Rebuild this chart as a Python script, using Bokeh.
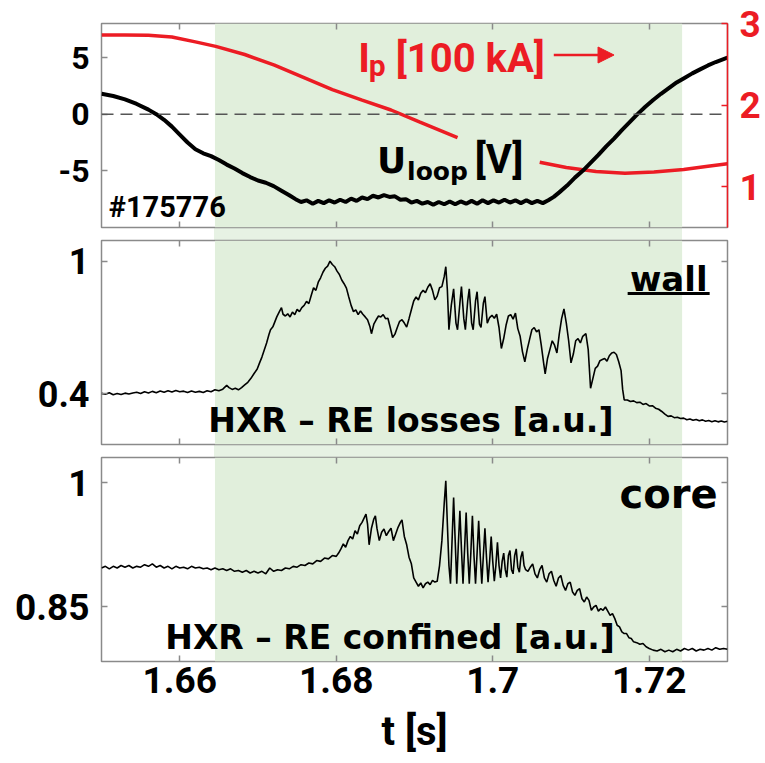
from bokeh.plotting import figure
from bokeh.layouts import column
from bokeh.models import (Range1d, LinearAxis, FixedTicker, Label, Arrow, NormalHead,
                          BoxAnnotation, Span)
from bokeh.embed import file_html
from bokeh.resources import INLINE

# ---------------- data ----------------
t_range = [1.65, 1.73]
shade_t = [1.6645, 1.7242]

x_ticks = [1.66, 1.68, 1.70, 1.72]
x_tick_labels = ["1.66", "1.68", "1.7", "1.72"]
uloop_ticks = [-5, 0, 5]
uloop_tick_labels = ["-5", "0", "5"]
ip_ticks = [1, 2, 3]
ip_tick_labels = ["1", "2", "3"]
wall_ticks = [0.4, 1.0]
wall_tick_labels = ["0.4", "1"]
core_ticks = [0.85, 1.0]
core_tick_labels = ["0.85", "1"]

uloop_t = [1.6500, 1.6515, 1.6530, 1.6545, 1.6560, 1.6570, 1.6580, 1.6590, 1.6600, 1.6610,
           1.6620, 1.6630, 1.6640, 1.6650, 1.6660, 1.6670, 1.6680, 1.6690, 1.6700, 1.6710,
           1.6720, 1.6730, 1.6740, 1.6748, 1.6755, 1.6762, 1.6770, 1.6777, 1.6784, 1.6791,
           1.6798, 1.6805, 1.6812, 1.6819, 1.6826, 1.6833, 1.6840, 1.6847, 1.6854, 1.6861,
           1.6868, 1.6875, 1.6882, 1.6889, 1.6896, 1.6903, 1.6910, 1.6917, 1.6924, 1.6931,
           1.6938, 1.6945, 1.6952, 1.6959, 1.6966, 1.6973, 1.6980, 1.6987, 1.6994, 1.7001,
           1.7008, 1.7015, 1.7022, 1.7029, 1.7036, 1.7043, 1.7050, 1.7057, 1.7064, 1.7071,
           1.7078, 1.7085, 1.7095, 1.7105, 1.7115, 1.7125, 1.7135, 1.7145, 1.7155, 1.7165,
           1.7175, 1.7185, 1.7195, 1.7205, 1.7215, 1.7225, 1.7235, 1.7245, 1.7255, 1.7265,
           1.7275, 1.7285, 1.7300]
uloop_v = [1.8, 1.6, 1.3, 0.9, 0.4, 0.0, -0.5, -1.1, -1.8, -2.5,
           -3.1, -3.45, -3.7, -4.05, -4.45, -4.8, -5.2, -5.55, -5.85, -6.05,
           -6.35, -6.75, -7.15, -7.5, -7.75, -7.6, -7.9, -7.65, -7.85, -7.6,
           -7.8, -7.55, -7.75, -7.45, -7.65, -7.35, -7.5, -7.2, -7.35, -7.15,
           -7.3, -7.25, -7.55, -7.5, -7.8, -7.65, -7.9, -7.75, -8.0, -7.75,
           -7.95, -7.7, -7.95, -7.7, -7.9, -7.65, -7.9, -7.6, -7.85, -7.6,
           -7.8, -7.55, -7.8, -7.6, -7.85, -7.6, -7.85, -7.65, -7.85, -7.6,
           -7.3, -6.9, -6.3, -5.6, -5.0, -4.3, -3.6, -2.85, -2.15, -1.4,
           -0.7, 0.0, 0.65, 1.25, 1.8, 2.3, 2.8, 3.2, 3.6, 3.95,
           4.3, 4.6, 5.0]

# plasma current [100 kA], drawn in two pieces (hidden behind the U_loop label)
ip_t_a = [1.6500, 1.6530, 1.6560, 1.6590, 1.6620, 1.6646, 1.6683, 1.6721, 1.6758, 1.6795,
          1.6833, 1.6870, 1.6907, 1.6955]
ip_a = [2.86, 2.86, 2.855, 2.835, 2.775, 2.72, 2.62, 2.49, 2.34, 2.19,
        2.06, 1.94, 1.79, 1.60]
ip_t_b = [1.7060, 1.7094, 1.7132, 1.7169, 1.7206, 1.7244, 1.7275, 1.7300]
ip_b = [1.30, 1.235, 1.185, 1.165, 1.18, 1.21, 1.25, 1.28]

wall_t = [1.6500, 1.6505, 1.6510, 1.6515, 1.6520, 1.6525, 1.6530, 1.6535, 1.6540, 1.6545,
          1.6550, 1.6555, 1.6560, 1.6565, 1.6570, 1.6575, 1.6580, 1.6585, 1.6590, 1.6595,
          1.6600, 1.6605, 1.6610, 1.6615, 1.6620, 1.6625, 1.6630, 1.6635, 1.6640, 1.6645,
          1.6650, 1.6655, 1.6660, 1.6663, 1.6667, 1.6671, 1.6675, 1.6679, 1.6683, 1.6687,
          1.6691, 1.6695, 1.6699, 1.6702, 1.6705, 1.6708, 1.6711, 1.6714, 1.6716, 1.6719,
          1.6722, 1.6724, 1.6727, 1.6730, 1.6732, 1.6735, 1.6738, 1.6741, 1.6744, 1.6747,
          1.6750, 1.6753, 1.6756, 1.6759, 1.6762, 1.6765, 1.6768, 1.6771, 1.6774, 1.6777,
          1.6780, 1.6783, 1.6786, 1.6789, 1.6792, 1.6795, 1.6798, 1.6801, 1.6804, 1.6807,
          1.6810, 1.6813, 1.6816, 1.6819, 1.6822, 1.6825, 1.6828, 1.6831, 1.6834, 1.6837,
          1.6840, 1.6843, 1.6845, 1.6848, 1.6851, 1.6854, 1.6857, 1.6860, 1.6863, 1.6866,
          1.6869, 1.6872, 1.6875, 1.6878, 1.6881, 1.6884, 1.6887, 1.6890, 1.6893, 1.6896,
          1.6899, 1.6902, 1.6905, 1.6908, 1.6911, 1.6914, 1.6917, 1.6920, 1.6923, 1.6926,
          1.6929, 1.6932, 1.6935, 1.6938, 1.6940, 1.6942, 1.6944, 1.6947, 1.6950, 1.6953,
          1.6955, 1.6958, 1.6960, 1.6963, 1.6965, 1.6968, 1.6970, 1.6973, 1.6975, 1.6978,
          1.6980, 1.6983, 1.6985, 1.6988, 1.6990, 1.6993, 1.6996, 1.6999, 1.7002, 1.7005,
          1.7008, 1.7011, 1.7014, 1.7017, 1.7020, 1.7023, 1.7026, 1.7029, 1.7032, 1.7035,
          1.7038, 1.7041, 1.7044, 1.7047, 1.7050, 1.7053, 1.7056, 1.7059, 1.7062, 1.7065,
          1.7067, 1.7070, 1.7073, 1.7076, 1.7079, 1.7082, 1.7085, 1.7088, 1.7091, 1.7094,
          1.7097, 1.7100, 1.7103, 1.7106, 1.7109, 1.7112, 1.7115, 1.7119, 1.7122, 1.7125,
          1.7128, 1.7131, 1.7134, 1.7137, 1.7140, 1.7143, 1.7146, 1.7149, 1.7152, 1.7155,
          1.7158, 1.7161, 1.7164, 1.7166, 1.7168, 1.7172, 1.7176, 1.7180, 1.7184, 1.7188,
          1.7192, 1.7196, 1.7200, 1.7204, 1.7208, 1.7212, 1.7216, 1.7220, 1.7224, 1.7228,
          1.7232, 1.7236, 1.7240, 1.7244, 1.7248, 1.7252, 1.7256, 1.7260, 1.7264, 1.7268,
          1.7272, 1.7276, 1.7280, 1.7284, 1.7288, 1.7292, 1.7296, 1.7300]
wall_v = [0.402, 0.398, 0.405, 0.396, 0.401, 0.397, 0.403, 0.399, 0.404, 0.407,
          0.401, 0.409, 0.404, 0.411, 0.405, 0.413, 0.407, 0.414, 0.408, 0.415,
          0.409, 0.412, 0.406, 0.413, 0.407, 0.411, 0.406, 0.414, 0.409, 0.418,
          0.414, 0.421, 0.438, 0.428, 0.420, 0.425, 0.418, 0.428, 0.440, 0.452,
          0.470, 0.492, 0.512, 0.540, 0.566, 0.598, 0.630, 0.668, 0.690, 0.703,
          0.730, 0.748, 0.770, 0.790, 0.760, 0.752, 0.762, 0.748, 0.770, 0.758,
          0.782, 0.772, 0.790, 0.800, 0.818, 0.808, 0.845, 0.880, 0.868, 0.905,
          0.925, 0.950, 0.968, 0.978, 1.000, 0.985, 0.975, 0.955, 0.940, 0.915,
          0.898, 0.878, 0.838, 0.800, 0.772, 0.780, 0.758, 0.775, 0.760, 0.748,
          0.735, 0.705, 0.672, 0.715, 0.735, 0.752, 0.748, 0.758, 0.740, 0.742,
          0.700, 0.655, 0.670, 0.700, 0.728, 0.735, 0.720, 0.702, 0.740, 0.780,
          0.820, 0.838, 0.825, 0.855, 0.868, 0.858, 0.882, 0.898, 0.868, 0.825,
          0.842, 0.880, 0.885, 0.930, 0.975, 0.870, 0.690, 0.800, 0.875, 0.720,
          0.690, 0.810, 0.885, 0.740, 0.690, 0.820, 0.875, 0.720, 0.690, 0.820,
          0.862, 0.715, 0.700, 0.810, 0.840, 0.720, 0.745, 0.755, 0.742, 0.760,
          0.700, 0.605, 0.650, 0.710, 0.752, 0.758, 0.738, 0.765, 0.695, 0.660,
          0.590, 0.545, 0.600, 0.645, 0.690, 0.700, 0.680, 0.690, 0.620, 0.540,
          0.490, 0.560, 0.600, 0.640, 0.620, 0.585, 0.670, 0.740, 0.784, 0.720,
          0.640, 0.540, 0.580, 0.640, 0.650, 0.630, 0.660, 0.672, 0.600, 0.425,
          0.470, 0.515, 0.525, 0.550, 0.555, 0.560, 0.548, 0.572, 0.585, 0.588,
          0.578, 0.545, 0.505, 0.420, 0.372, 0.372, 0.365, 0.368, 0.360, 0.362,
          0.352, 0.356, 0.345, 0.346, 0.335, 0.330, 0.320, 0.308, 0.298, 0.300,
          0.292, 0.294, 0.288, 0.290, 0.283, 0.286, 0.280, 0.284, 0.278, 0.282,
          0.276, 0.279, 0.274, 0.278, 0.273, 0.277, 0.272, 0.276]

core_t = [1.6500, 1.6505, 1.6510, 1.6515, 1.6520, 1.6525, 1.6530, 1.6535, 1.6540, 1.6545,
          1.6550, 1.6555, 1.6560, 1.6565, 1.6570, 1.6575, 1.6580, 1.6585, 1.6590, 1.6595,
          1.6600, 1.6605, 1.6610, 1.6615, 1.6620, 1.6625, 1.6630, 1.6635, 1.6640, 1.6645,
          1.6650, 1.6655, 1.6660, 1.6665, 1.6670, 1.6675, 1.6680, 1.6685, 1.6690, 1.6695,
          1.6700, 1.6705, 1.6710, 1.6715, 1.6720, 1.6725, 1.6730, 1.6735, 1.6740, 1.6745,
          1.6750, 1.6755, 1.6760, 1.6765, 1.6770, 1.6775, 1.6780, 1.6785, 1.6790, 1.6795,
          1.6800, 1.6803, 1.6806, 1.6809, 1.6812, 1.6815, 1.6818, 1.6821, 1.6824, 1.6827,
          1.6830, 1.6833, 1.6836, 1.6838, 1.6840, 1.6842, 1.6845, 1.6848, 1.6850, 1.6852,
          1.6855, 1.6858, 1.6861, 1.6864, 1.6867, 1.6870, 1.6873, 1.6876, 1.6879, 1.6882,
          1.6884, 1.6887, 1.6890, 1.6893, 1.6896, 1.6899, 1.6902, 1.6905, 1.6908, 1.6911,
          1.6914, 1.6917, 1.6920, 1.6923, 1.6926, 1.6929, 1.6932, 1.6935, 1.6938, 1.6940,
          1.6942, 1.6944, 1.6946, 1.6948, 1.6950, 1.6952, 1.6954, 1.6956, 1.6958, 1.6960,
          1.6962, 1.6964, 1.6966, 1.6968, 1.6970, 1.6972, 1.6974, 1.6976, 1.6978, 1.6980,
          1.6982, 1.6984, 1.6986, 1.6988, 1.6990, 1.6992, 1.6994, 1.6996, 1.6998, 1.7000,
          1.7002, 1.7004, 1.7006, 1.7008, 1.7010, 1.7012, 1.7014, 1.7016, 1.7018, 1.7020,
          1.7022, 1.7024, 1.7026, 1.7028, 1.7030, 1.7032, 1.7034, 1.7036, 1.7038, 1.7040,
          1.7042, 1.7045, 1.7048, 1.7051, 1.7054, 1.7057, 1.7060, 1.7063, 1.7066, 1.7069,
          1.7072, 1.7075, 1.7078, 1.7081, 1.7084, 1.7087, 1.7090, 1.7093, 1.7096, 1.7099,
          1.7102, 1.7105, 1.7108, 1.7111, 1.7114, 1.7117, 1.7120, 1.7123, 1.7126, 1.7129,
          1.7132, 1.7135, 1.7138, 1.7141, 1.7144, 1.7147, 1.7150, 1.7153, 1.7156, 1.7159,
          1.7162, 1.7165, 1.7168, 1.7171, 1.7174, 1.7177, 1.7180, 1.7184, 1.7188, 1.7192,
          1.7196, 1.7200, 1.7205, 1.7210, 1.7215, 1.7220, 1.7225, 1.7230, 1.7235, 1.7240,
          1.7245, 1.7250, 1.7255, 1.7260, 1.7265, 1.7270, 1.7275, 1.7280, 1.7285, 1.7290,
          1.7295, 1.7300]
core_v = [0.897, 0.899, 0.896, 0.899, 0.897, 0.900, 0.898, 0.900, 0.897, 0.899,
          0.898, 0.901, 0.899, 0.902, 0.898, 0.900, 0.897, 0.899, 0.896, 0.899,
          0.897, 0.898, 0.896, 0.899, 0.897, 0.898, 0.896, 0.897, 0.895, 0.897,
          0.895, 0.896, 0.894, 0.896, 0.893, 0.894, 0.892, 0.894, 0.891, 0.893,
          0.891, 0.893, 0.890, 0.897, 0.893, 0.895, 0.894, 0.897, 0.896, 0.899,
          0.898, 0.901, 0.900, 0.903, 0.902, 0.906, 0.905, 0.909, 0.908, 0.912,
          0.911, 0.915, 0.920, 0.926, 0.922, 0.930, 0.935, 0.932, 0.942, 0.938,
          0.948, 0.952, 0.958, 0.962, 0.950, 0.925, 0.945, 0.956, 0.960, 0.945,
          0.930, 0.940, 0.944, 0.936, 0.941, 0.945, 0.930, 0.938, 0.946, 0.952,
          0.955, 0.935, 0.925, 0.910, 0.902, 0.885, 0.880, 0.875, 0.879, 0.873,
          0.878, 0.880, 0.877, 0.882, 0.880, 0.881, 0.900, 0.930, 0.975, 1.002,
          0.950, 0.900, 0.878, 0.930, 0.982, 0.930, 0.878, 0.925, 0.966, 0.920,
          0.878, 0.920, 0.964, 0.915, 0.878, 0.915, 0.960, 0.912, 0.878, 0.915,
          0.954, 0.912, 0.878, 0.912, 0.945, 0.910, 0.880, 0.905, 0.935, 0.905,
          0.881, 0.900, 0.928, 0.900, 0.885, 0.905, 0.915, 0.895, 0.886, 0.912,
          0.918, 0.895, 0.890, 0.912, 0.920, 0.898, 0.892, 0.910, 0.917, 0.900,
          0.895, 0.893, 0.898, 0.902, 0.890, 0.885, 0.895, 0.900, 0.885, 0.880,
          0.890, 0.893, 0.882, 0.875, 0.885, 0.888, 0.876, 0.870, 0.878, 0.880,
          0.868, 0.864, 0.870, 0.872, 0.860, 0.856, 0.862, 0.858, 0.846, 0.850,
          0.852, 0.845, 0.848, 0.846, 0.850, 0.845, 0.840, 0.842, 0.836, 0.828,
          0.826, 0.820, 0.818, 0.818, 0.813, 0.812, 0.808, 0.807, 0.805, 0.806,
          0.802, 0.800, 0.798, 0.797, 0.799, 0.796, 0.798, 0.796, 0.799, 0.797,
          0.800, 0.798, 0.800, 0.797, 0.799, 0.798, 0.800, 0.798, 0.801, 0.799,
          0.800, 0.799]

# ---------------- style ----------------
RED = "#ec1c24"
GRAY = "#8a8a8a"
GREEN = "#e1efdc"
GREEN_GAP = "#e7f2e4"
NUM_FONT = "Roboto"
TXT_FONT = "DejaVu Sans"

xr = Range1d(t_range[0], t_range[1])


def style_axis(ax, ticks, labels, size=None, color=GRAY, label_color="black"):
    ax.ticker = FixedTicker(ticks=ticks)
    ax.major_tick_in = 6
    ax.major_tick_out = 0
    ax.minor_tick_line_color = None
    ax.major_tick_line_color = color
    ax.major_tick_line_width = 1.5
    ax.axis_line_color = None
    if size is None:
        ax.major_label_text_font_size = "0px"
        ax.major_label_standoff = 0
        ax.major_label_overrides = {k: "" for k in ticks}
    else:
        ax.major_label_overrides = dict(zip(ticks, labels))
        ax.major_label_text_font = NUM_FONT
        ax.major_label_text_font_style = "bold"
        ax.major_label_text_font_size = size
        ax.major_label_text_color = label_color


def make_fig(yr, top, bottom, yticks, ylabels, ysize, show_x=False):
    p = figure(x_range=xr, y_range=yr, frame_width=626, frame_height=204,
               min_border_left=101, min_border_right=38,
               min_border_top=top, min_border_bottom=bottom,
               output_backend="svg", toolbar_location=None)
    p.grid.visible = False
    p.outline_line_color = GRAY
    p.outline_line_width = 1.5
    p.background_fill_color = "white"
    p.border_fill_color = None
    p.add_layout(BoxAnnotation(left=shade_t[0], right=shade_t[1], fill_color=GREEN,
                               fill_alpha=1.0, line_color=None, level="underlay"))
    style_axis(p.yaxis[0], yticks, ylabels, ysize)
    p.yaxis[0].major_label_standoff = 12
    bottom_ax = p.xaxis[0]
    if show_x:
        style_axis(bottom_ax, x_ticks, x_tick_labels, "37px")
        bottom_ax.major_label_standoff = 5
    else:
        style_axis(bottom_ax, x_ticks, x_tick_labels, None)
    top_ax = LinearAxis()
    style_axis(top_ax, x_ticks, x_tick_labels, None)
    p.add_layout(top_ax, "above")
    return p, bottom_ax


def lab(p, x, y, text, size, font=TXT_FONT, color="black", align="left"):
    px = float(size.replace("px", ""))
    p.add_layout(Label(x=x, y=y, text=text, text_font=font, text_font_style="bold",
                       text_font_size=size, text_color=color, text_align=align,
                       text_baseline="alphabetic", y_offset=round(0.36 * px)))


# ---- top panel: U_loop and I_p ----
p1, _ = make_fig(Range1d(-10, 8), 23, 6, uloop_ticks, uloop_tick_labels, "32px")
p1.extra_y_ranges = {"ip": Range1d(0.5, 3)}
r_ax = LinearAxis(y_range_name="ip")
style_axis(r_ax, ip_ticks, ip_tick_labels, "37px", color=RED, label_color=RED)
r_ax.axis_line_color = RED
r_ax.axis_line_width = 1.5
r_ax.major_label_standoff = 12
p1.add_layout(r_ax, "right")
p1.add_layout(Span(location=0, dimension="width", line_color="#555555",
                   line_width=1.5, line_dash="12 7"))
p1.line(ip_t_a, ip_a, y_range_name="ip", line_color=RED, line_width=3.5)
p1.line(ip_t_b, ip_b, y_range_name="ip", line_color=RED, line_width=3.5)
p1.line(uloop_t, uloop_v, line_color="black", line_width=4)
lab(p1, 1.6828, 3.655, "I", "40px", font=NUM_FONT, color=RED)
lab(p1, 1.68415, 3.30, "p", "30px", font=NUM_FONT, color=RED)
lab(p1, 1.68760, 3.655, "[100 kA]", "40px", font=NUM_FONT, color=RED)
p1.add_layout(Arrow(end=NormalHead(size=16, fill_color=RED, line_color=RED),
                    x_start=1.7078, y_start=5.22, x_end=1.7155, y_end=5.22,
                    line_color=RED, line_width=2.5))
lab(p1, 1.68520, -5.22, "U", "36px")
lab(p1, 1.68905, -5.84, "loop", "25px")
lab(p1, 1.69770, -5.22, "[V]", "40px", font=NUM_FONT)
lab(p1, 1.65093, -9.03, "#175776", "29px", font=NUM_FONT)

# ---- middle panel: wall HXR ----
p2, _ = make_fig(Range1d(0.1706, 1.0937), 7, 6, wall_ticks, wall_tick_labels, "36px")
r2 = LinearAxis()
style_axis(r2, wall_ticks, wall_tick_labels, None)
p2.add_layout(r2, "right")
p2.line(wall_t, wall_v, line_color="black", line_width=1.6)
lab(p2, 1.72746, 0.867, "wall", "34px", align="right")
p2.add_layout(BoxAnnotation(left=1.71724, right=1.72772, bottom=0.8471, top=0.8606,
                            fill_color="black", fill_alpha=1.0, line_color=None))
lab(p2, 1.66365, 0.2263, "HXR \u2013 RE losses [a.u.]", "33px")

# ---- bottom panel: core HXR ----
p3, x3 = make_fig(Range1d(0.7843, 1.0302), 7, 102, core_ticks, core_tick_labels, "37px",
                  show_x=True)
r3 = LinearAxis()
style_axis(r3, core_ticks, core_tick_labels, None)
p3.add_layout(r3, "right")
p3.line(core_t, core_v, line_color="black", line_width=1.6)
lab(p3, 1.72873, 0.9698, "core", "40px", align="right")
lab(p3, 1.65815, 0.7985, "HXR \u2013 RE confined [a.u.]", "33px")
x3.axis_label = "t [s]"
x3.axis_label_text_font = NUM_FONT
x3.axis_label_text_font_style = "bold"
x3.axis_label_text_font_size = "40px"
x3.axis_label_text_color = "black"
x3.axis_label_standoff = 12

layout = column(p1, p2, p3, spacing=0, styles={
    "background-image": "linear-gradient(%s, %s)" % (GREEN_GAP, GREEN_GAP),
    "background-repeat": "no-repeat",
    "background-size": "468px 637px",
    "background-position": "214px 23px",
})

open("out.html", "w").write(file_html(layout, INLINE))
